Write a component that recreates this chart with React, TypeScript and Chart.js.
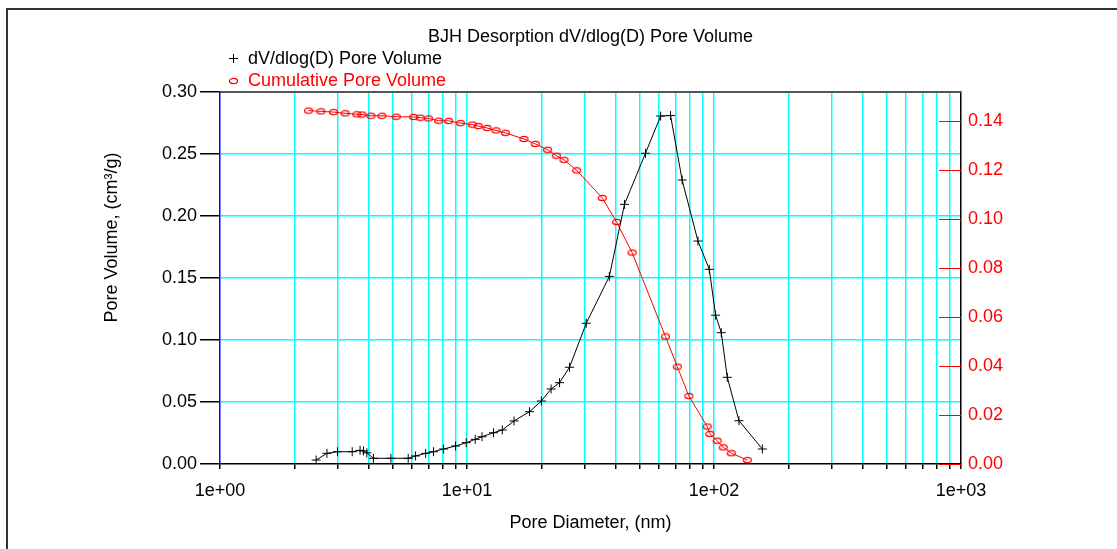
import React, { useEffect, useRef } from 'react';
import { Chart, registerables } from 'chart.js';

Chart.register(...registerables);

const chartTitle = 'BJH Desorption dV/dlog(D) Pore Volume';
const seriesNames = ['dV/dlog(D) Pore Volume', 'Cumulative Pore Volume'];
const xTitle = 'Pore Diameter, (nm)';
const yTitle = 'Pore Volume, (cm³/g)';

const dvDiameters = [
  2.45, 2.71, 2.99, 3.43, 3.69, 3.81, 3.93, 4.18, 4.92, 5.78, 6.19, 6.8, 7.32, 8.04, 8.99, 9.93,
  10.8, 11.5, 12.8, 13.9, 15.5, 17.9, 20.0, 21.9, 23.7, 26.0, 30.4, 37.7, 43.4, 52.8, 60.8, 66.7,
  74.3, 86.1, 95.7, 101.5, 107, 113.2, 126.2, 157,
];
const dvValues = [
  0.0032, 0.0086, 0.0099, 0.0099, 0.011, 0.0105, 0.009, 0.0046, 0.0046, 0.0046, 0.0065, 0.0086,
  0.0099, 0.0121, 0.0145, 0.0172, 0.0199, 0.022, 0.0252, 0.0274, 0.0347, 0.0422, 0.0508, 0.0605,
  0.0656, 0.078, 0.1135, 0.1513, 0.2094, 0.2506, 0.2806, 0.281, 0.229, 0.1798, 0.157, 0.12, 0.1059,
  0.0699, 0.0349, 0.0121,
];

const cumDiameters = [
  2.28, 2.56, 2.88, 3.21, 3.58, 3.75, 4.08, 4.52, 5.17, 6.08, 6.47, 6.98, 7.67, 8.42, 9.4, 10.5,
  11.1, 12.05, 13.1, 14.3, 17.0, 18.9, 21.2, 23.0, 24.7, 27.8, 35.3, 40.3, 46.6, 63.6, 71.0, 79.1,
  93.9, 96.2, 103, 109, 117.5, 136.4,
];
const cumValues = [
  0.1444, 0.1441, 0.1438, 0.1433, 0.1429, 0.1428, 0.1423, 0.1423, 0.1419, 0.1418, 0.1415, 0.1412,
  0.1403, 0.1402, 0.1393, 0.1387, 0.1381, 0.1373, 0.1363, 0.1353, 0.1328, 0.1308, 0.1284, 0.126,
  0.1243, 0.12, 0.1087, 0.0989, 0.0864, 0.0521, 0.0398, 0.0278, 0.0153, 0.0123, 0.0095, 0.0068,
  0.0044, 0.0016,
];

const xTickValues = [
  1, 2, 3, 4, 5, 6, 7, 8, 9, 10, 20, 30, 40, 50, 60, 70, 80, 90, 100, 200, 300, 400, 500, 600, 700,
  800, 900, 1000,
];
const xMajorTicks = [1, 10, 100, 1000];
const xMajorLabels = ['1e+00', '1e+01', '1e+02', '1e+03'];
const leftTicks = [0, 0.05, 0.1, 0.15, 0.2, 0.25, 0.3];
const rightTicks = [0, 0.02, 0.04, 0.06, 0.08, 0.1, 0.12, 0.14];
const rightMax = 0.152;

const FONT = "'Liberation Sans', Arial, sans-serif";
const CYAN = '#00ffff';

export default function App() {
  const ref = useRef<HTMLCanvasElement | null>(null);

  useEffect(() => {
    const canvas = ref.current;
    if (!canvas) return;

    const ellipse = document.createElement('canvas');
    ellipse.width = 11;
    ellipse.height = 8;
    const ec = ellipse.getContext('2d')!;
    ec.strokeStyle = '#ff0000';
    ec.lineWidth = 1.2;
    ec.beginPath();
    ec.ellipse(5.5, 4, 4, 2.6, 0, 0, Math.PI * 2);
    ec.stroke();

    const decor = {
      id: 'decor',
      afterDraw(chart: any) {
        const ctx = chart.ctx;
        const ca = chart.chartArea;
        ctx.save();
        // outer frame
        ctx.strokeStyle = '#333333';
        ctx.lineWidth = 2;
        ctx.beginPath();
        ctx.moveTo(7, 560);
        ctx.lineTo(7, 9);
        ctx.lineTo(1140, 9);
        ctx.stroke();
        // top border of plot
        ctx.strokeStyle = '#555555';
        ctx.lineWidth = 2;
        ctx.beginPath();
        ctx.moveTo(ca.left, ca.top);
        ctx.lineTo(ca.right, ca.top);
        ctx.stroke();

        // right axis inner tick marks
        const y1 = chart.scales.y1;
        ctx.strokeStyle = '#ff0000';
        ctx.lineWidth = 1;
        ctx.beginPath();
        rightTicks.forEach((v) => {
          const py = Math.round(y1.getPixelForValue(v)) + 0.5;
          ctx.moveTo(ca.right - 22, py);
          ctx.lineTo(ca.right, py);
        });
        ctx.stroke();

        ctx.font = `18px ${FONT}`;
        ctx.fillStyle = '#000000';
        ctx.textBaseline = 'alphabetic';
        ctx.textAlign = 'center';
        ctx.fillText(chartTitle, (ca.left + ca.right) / 2, 42);
        ctx.fillText(xTitle, (ca.left + ca.right) / 2, 528);

        // legend
        ctx.textAlign = 'left';
        ctx.strokeStyle = '#000000';
        ctx.lineWidth = 1;
        ctx.beginPath();
        ctx.moveTo(229, 58.5);
        ctx.lineTo(238, 58.5);
        ctx.moveTo(233.5, 54);
        ctx.lineTo(233.5, 63);
        ctx.stroke();
        ctx.fillText(seriesNames[0], 248, 64);
        ctx.drawImage(ellipse, 228, 77);
        ctx.fillStyle = '#ff0000';
        ctx.fillText(seriesNames[1], 248, 86);

        // y title
        ctx.fillStyle = '#000000';
        ctx.translate(117, 237.5);
        ctx.rotate(-Math.PI / 2);
        ctx.textAlign = 'center';
        ctx.fillText(yTitle, 0, 0);
        ctx.restore();
      },
    };

    const chart = new Chart(canvas, {
      type: 'scatter',
      data: {
        datasets: [
          {
            label: seriesNames[0],
            data: dvDiameters.map((d, i) => ({ x: d, y: dvValues[i] })),
            showLine: true,
            borderColor: '#000000',
            backgroundColor: '#000000',
            borderWidth: 1,
            pointStyle: 'cross',
            pointRadius: 4.5,
            pointBorderWidth: 1,
            pointBorderColor: '#000000',
            yAxisID: 'y',
            tension: 0,
          },
          {
            label: seriesNames[1],
            data: cumDiameters.map((d, i) => ({ x: d, y: cumValues[i] })),
            showLine: true,
            borderColor: '#ff0000',
            backgroundColor: '#ff0000',
            borderWidth: 1,
            pointStyle: ellipse as any,
            pointRadius: 4,
            yAxisID: 'y1',
            tension: 0,
          },
        ],
      },
      options: {
        animation: false,
        responsive: true,
        maintainAspectRatio: false,
        layout: { padding: { top: 92, left: 0, right: 0, bottom: 0 } },
        plugins: {
          legend: { display: false },
          title: { display: false },
          tooltip: { enabled: false },
        },
        scales: {
          x: {
            type: 'logarithmic',
            position: 'bottom',
            min: 1,
            max: 1000,
            afterBuildTicks: (scale: any) => {
              scale.ticks = xTickValues.map((v) => ({ value: v, major: xMajorTicks.includes(v) }));
            },
            afterFit: (scale: any) => {
              scale.height = 85;
            },
            grid: {
              color: (ctx: any) => {
                const v = ctx.tick ? ctx.tick.value : 0;
                return v === 1 || v === 1000 ? 'rgba(0,0,0,0)' : CYAN;
              },
              lineWidth: 1.5,
              tickColor: '#000000',
              tickLength: 5,
              drawOnChartArea: true,
            },
            border: { color: '#000000', width: 1.5 },
            ticks: {
              autoSkip: false,
              maxRotation: 0,
              minRotation: 0,
              padding: 11,
              color: '#000000',
              font: { family: FONT, size: 18 },
              callback: (value: any) => {
                const idx = xMajorTicks.indexOf(Number(value));
                return idx >= 0 ? xMajorLabels[idx] : '';
              },
            },
          },
          y: {
            type: 'linear',
            position: 'left',
            min: 0,
            max: 0.3,
            afterBuildTicks: (scale: any) => {
              scale.ticks = leftTicks.map((v) => ({ value: v }));
            },
            afterFit: (scale: any) => {
              scale.width = 220;
            },
            grid: {
              color: (ctx: any) => {
                const v = ctx.tick ? ctx.tick.value : 0;
                return v <= 0.0001 || v >= 0.2999 ? 'rgba(0,0,0,0)' : CYAN;
              },
              lineWidth: 1.5,
              tickColor: '#000000',
              tickLength: 20,
            },
            border: { color: '#0000ff', width: 1.5 },
            ticks: {
              padding: 3,
              color: '#000000',
              font: { family: FONT, size: 18 },
              callback: (value: any) => Number(value).toFixed(2),
            },
          },
          y1: {
            type: 'linear',
            position: 'right',
            min: 0,
            max: rightMax,
            afterBuildTicks: (scale: any) => {
              scale.ticks = rightTicks.map((v) => ({ value: v }));
            },
            afterFit: (scale: any) => {
              scale.width = 156;
            },
            grid: {
              drawOnChartArea: false,
              drawTicks: false,
            },
            border: { color: '#000000', width: 1.5 },
            ticks: {
              padding: 7,
              color: '#ff0000',
              font: { family: FONT, size: 18 },
              callback: (value: any) => Number(value).toFixed(2),
            },
          },
        },
      } as any,
      plugins: [decor],
    });

    return () => chart.destroy();
  }, []);

  return (
    <div style={{ position: 'absolute', left: 0, top: 0, width: 1117, height: 549, background: '#ffffff' }}>
      <canvas ref={ref} />
    </div>
  );
}
